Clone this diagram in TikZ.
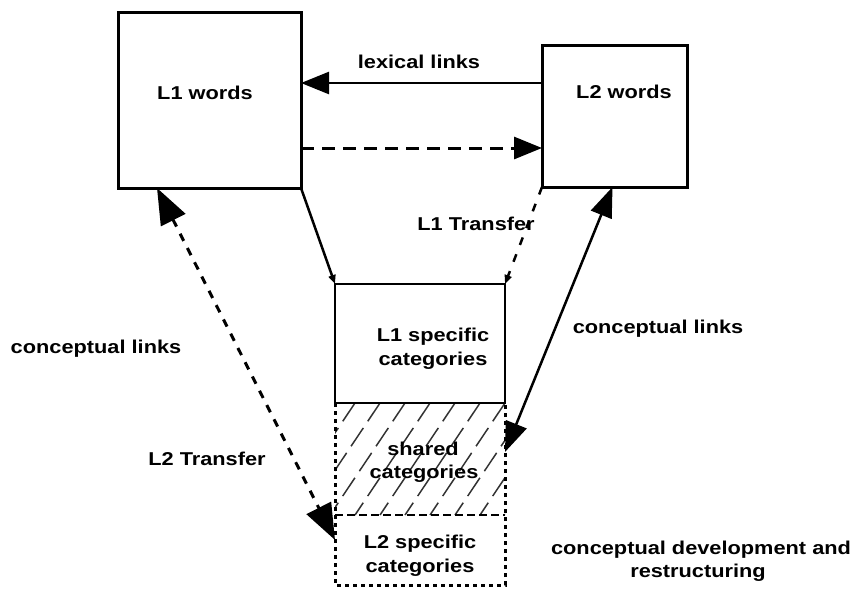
\documentclass[tikz,border=0pt]{standalone}
\usepackage{fontspec}
\newfontfamily\lblfont{Liberation Sans}[FakeStretch=1.17]
\usetikzlibrary{arrows.meta}
\begin{document}
\begin{tikzpicture}[x=1pt,y=-1pt,
  wordbox/.style={draw, line width=3pt, inner sep=0pt, outer sep=0pt},
  catbox/.style={draw, fill=white, line width=2.5pt, inner sep=0pt, outer sep=0pt},
  areabox/.style={inner sep=0pt, outer sep=0pt},
  lbl/.style={font=\lblfont\bfseries\fontsize{18.6}{24}\selectfont, inner sep=0pt, anchor=base},
  link/.style={line width=2.5pt},
  bigtip/.style={-{Triangle[length=28pt,width=22pt]}},
  hugetips/.style={{Triangle[length=36pt,width=27pt]}-{Triangle[length=36pt,width=27pt]}},
  twotips/.style={{Triangle[length=30pt,width=22pt]}-{Triangle[length=30pt,width=22pt]}},
  smalltip/.style={-{Triangle[length=9pt,width=7pt]}},
  hatch/.style={line width=1.5pt, draw=black!80, dash pattern=on 22pt off 8pt},
  dotline/.style={line width=3pt, dash pattern=on 4pt off 4pt},
  midline/.style={line width=2.5pt, dash pattern=on 8pt off 4pt}]
\useasboundingbox (0,0) rectangle (853,592);

% word stores
\node[wordbox, minimum width=183pt, minimum height=176pt] (L1w) at (209.5,100) {};
\node[wordbox, minimum width=145pt, minimum height=142pt] (L2w) at (614.5,116) {};

% conceptual stores
\node[areabox, minimum width=170pt, minimum height=112pt] (sh) at (420,459) {};
\node[areabox, minimum width=170pt, minimum height=70pt] (L2s) at (420,550) {};

% hatching of the shared area
\begin{scope}
  \clip (sh.north west) rectangle (sh.south east);
  \foreach \k in {-3,...,9}
    \draw[hatch] ({355+25*\k},403) -- ({280+25*\k},515);
\end{scope}
\draw[dotline] (sh.north west) -- (L2s.south west) -- (L2s.south east) -- (sh.north east);
\draw[midline] (L2s.north west) -- (L2s.north east);

\node[catbox, minimum width=170pt, minimum height=119pt] (L1s) at (420,343.5) {};

% connectors
\coordinate (lexY) at (0,83);
\coordinate (backY) at (0,148);
\draw[link, bigtip] (L2w.west |- lexY) -- (L1w.east |- lexY);
\draw[link, bigtip, line width=3pt, dash pattern=on 13pt off 8pt] (L1w.east |- backY) -- (L2w.west |- backY);
\draw[link, smalltip] (L1w.south east) -- (L1s.north west);
\draw[link, smalltip, dash pattern=on 8pt off 10pt] (L2w.south west) -- (L1s.north east);
\draw[link, hugetips, line width=3pt, dash pattern=on 8pt off 8pt] ([xshift=39pt]L1w.south west) -- ([yshift=10pt]L2s.west);
\draw[link, twotips] ([xshift=-2pt]L2w.south) -- ([yshift=7pt]sh.east);

% labels
\node[lbl] (tlex) at (419,68) {lexical links};
\node[lbl] (tL1w) at (205,99) {L1 words};
\node[lbl] (tL2w) at (624,98) {L2 words};
\node[lbl] (tL1t) at (476,230) {L1 Transfer};
\node[lbl] (tclL) at (96,353) {conceptual links};
\node[lbl] (tclR) at (658,333) {conceptual links};
\node[lbl] (tL2t) at (207,465) {L2 Transfer};
\node[lbl] (tL1sa) at (433,341) {L1 specific};
\node[lbl] (tL1sb) at (433,365) {categories};
\node[lbl] (tsha) at (423,455) {shared};
\node[lbl] (tshb) at (424,478) {categories};
\node[lbl] (tL2sa) at (420,548) {L2 specific};
\node[lbl] (tL2sb) at (420,572) {categories};
\node[lbl] (tcda) at (701,554) {conceptual development and};
\node[lbl] (tcdb) at (698,577) {restructuring};
\end{tikzpicture}
\end{document}
